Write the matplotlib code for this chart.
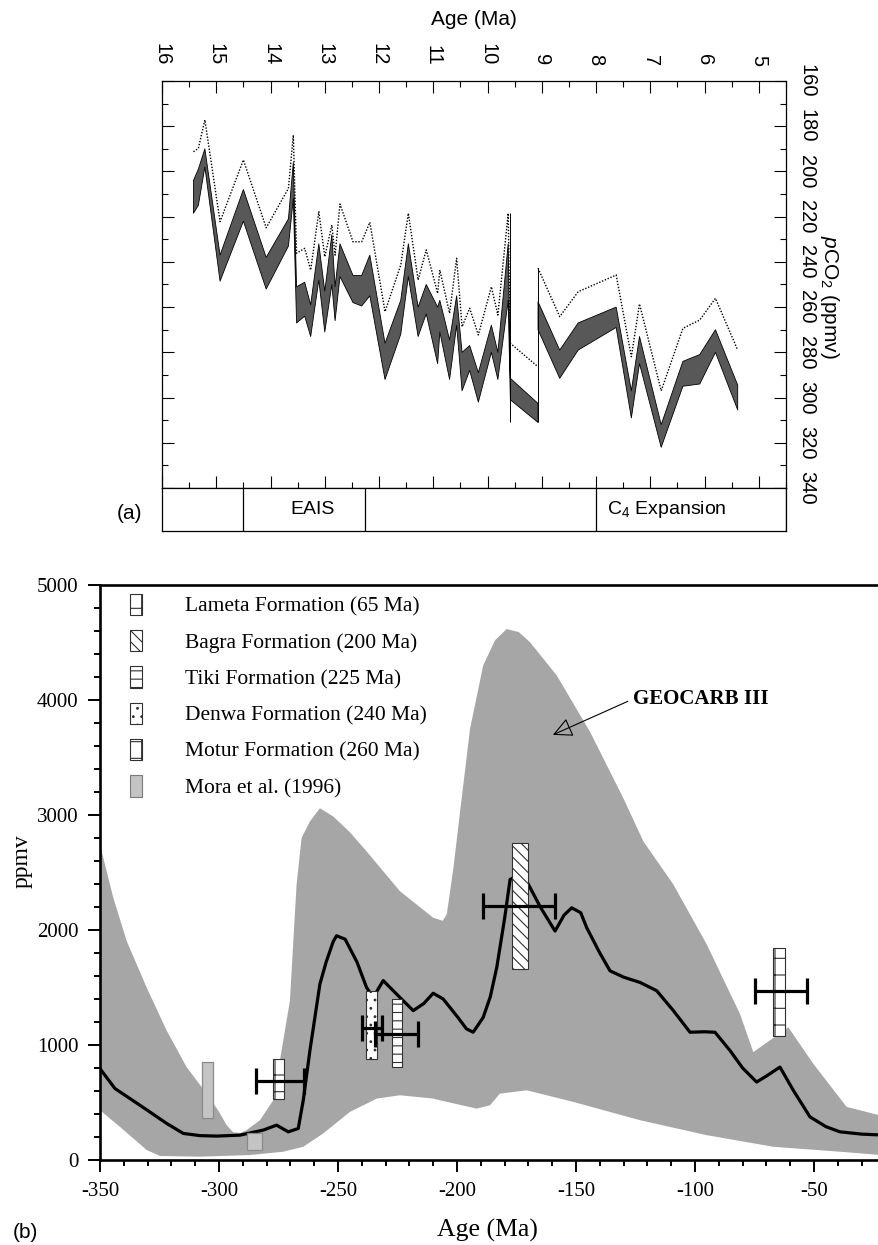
import numpy as np
import matplotlib
matplotlib.use("Agg")
import matplotlib.pyplot as plt
from matplotlib.patches import Patch

plt.rcParams["font.family"] = "Liberation Serif"
plt.rcParams["axes.unicode_minus"] = False
plt.rcParams["mathtext.fontset"] = "custom"
plt.rcParams["mathtext.rm"] = "Liberation Sans"
plt.rcParams["mathtext.it"] = "Liberation Sans:italic"
plt.rcParams["hatch.linewidth"] = 0.8

SANS = "Liberation Sans"
NAN = np.nan

# ---- (a) Miocene pCO2: band and dotted upper estimate (Ma, ppmv) ----
age_a = [15.42, 15.33, 15.21, 14.93, 14.50, 14.08, 13.67, 13.58, 13.52, 13.37,
         13.26, 13.11, 13.00, 12.87, 12.81, 12.72, 12.48, 12.32, 12.17, 11.89,
         11.60, 11.46, 11.28, 11.13, 10.92, 10.88, 10.70, 10.57, 10.47, 10.33,
         10.17, 9.93, 9.81, 9.62, 9.58, 9.07, 9.07, 9.07, 8.67, 8.33,
         7.63, 7.35, 7.20, 6.80, 6.40, 6.09, 5.80, 5.39]
dotted_a = [191.3, 189.8, 177.2, 222.2, 194.9, 224.9, 207.5, 183.9, 236.2, 234.0,
            243.6, 217.8, 237.7, 223.7, 237.0, 214.4, 231.1, 231.1, 222.5, 262.0,
            241.4, 218.5, 248.0, 234.7, 253.9, 243.6, 262.7, 238.4, 268.7, 260.5,
            272.3, 251.0, 263.5, 218.5, 276.0, 286.4, NAN, 242.8, 264.2, 253.2,
            245.8, 281.9, 258.6, 297.0, 269.4, 265.7, 256.1, 279.0]
band_top = [204, 199, 190, 237, 208, 238, 221, 196, 251, 249,
            259, 232, 253, 228, 251, 232, 246, 246, 237, 276,
            257, 232, 260, 250, 260, 257, 274.5, 255, 280, 277,
            289, 268, 280, 232, 291.5, 302.6, NAN, 257.6, 279, 267,
            260, 297, 273, 312, 284, 281, 270, 294.5]
band_bot = [218.5, 215, 198, 248.5, 222, 252, 233, 212, 267, 264,
            273, 248, 271, 250, 266, 246.5, 258, 259.5, 255, 292,
            272, 246.5, 273, 263, 285, 271, 292, 268, 297, 288,
            302, 280, 292, 257, 301, 311, NAN, 270, 291.5, 279,
            269, 309, 285, 322, 295, 294, 280, 305.5]
# thin vertical connectors at the 9.6 and 9.1 Ma steps
step_age = [9.58, 9.07]
step_top = [218.5, 242.8]
step_bot = [311, 311]

# event bar: (start, end, label)
event_start = [16.0, 14.5, 12.25, 8.0]
event_end = [14.5, 12.25, 8.0, 4.5]
event_label = ["", "EAIS", "", r"C$_4$ Expansion"]

# ---- (b) GEOCARB III envelope and mean (Ma, ppmv) ----
geo_up_age = [-350, -344.4, -338.8, -330.4, -322, -313.6, -305.2, -300, -296.8, -294,
              -291, -288.4, -282.8, -277.2, -274.4, -270.2, -267.4, -265.3, -261.8,
              -257.6, -252, -245, -238, -224, -210, -206, -204.3, -201.5, -198.7,
              -194.5, -189, -184, -179.1, -174, -169.3, -158.1, -144.1, -130.1, -121.7,
              -109.1, -95.1, -81.1, -75.5, -60.8, -50.3, -36.3, -22.7, -20]
geo_up_val = [2742, 2280, 1905, 1500, 1126, 808, 577, 420, 303, 240,
              235, 260, 346, 519, 866, 1385, 2396, 2800, 2944,
              3059, 2987, 2850, 2684, 2338, 2107, 2080, 2136, 2540, 3030,
              3752, 4300, 4520, 4617, 4590, 4502, 4214, 3723, 3146, 2771,
              2396, 1876, 1270, 938, 1154, 837, 462, 390, 385]
geo_lo_age = [-350, -341.6, -330.4, -324.8, -308, -287, -273, -264.6, -256.2,
              -245, -233.7, -224, -210, -207.1, -191.8, -186.1, -182, -170.7,
              -151.1, -123.1, -95.1, -67.1, -39.1, -20]
geo_lo_val = [433, 288, 87, 35, 29, 43, 72, 115, 231,
              418, 534, 563, 534, 519, 447, 476, 577, 606,
              505, 346, 216, 115, 72, 40]
mean_age = [-350, -343.7, -333.2, -322, -315, -308, -301, -291.2, -281.4, -275.8,
            -270.9, -266.7, -264.6, -261.8, -257.6, -255, -252, -250.6, -247, -242,
            -238, -235.2, -231, -224, -218.4, -214, -210, -205.8, -200, -196, -193.2,
            -189, -186, -183.3, -180, -177.7, -174, -170.7, -165, -158.8, -155,
            -151.8, -148, -145.5, -140, -135.7, -130, -123.1, -116.1, -109.1,
            -102.1, -96, -91.6, -85.3, -80, -74.1, -70, -64.3, -58.7, -51.7,
            -45, -39.1, -30, -20]
mean_val = [794, 621, 476, 318, 231, 212, 208, 216, 260, 303,
            245, 274, 519, 952, 1530, 1720, 1900, 1950, 1920, 1720,
            1500, 1414, 1560, 1414, 1299, 1360, 1450, 1400, 1250, 1140, 1111,
            1240, 1420, 1674, 2100, 2439, 2480, 2424, 2200, 1991, 2130,
            2193, 2150, 2020, 1800, 1645, 1590, 1544, 1472, 1299,
            1111, 1115, 1111, 952, 800, 678, 730, 808, 606, 375,
            290, 245, 225, 216]

# paleosol estimates: box ranges and age error bars
fm_names = ["Lameta Formation (65 Ma)", "Bagra Formation (200 Ma)",
            "Tiki Formation (225 Ma)", "Denwa Formation (240 Ma)",
            "Motur Formation (260 Ma)", "Mora et al. (1996)"]
fm_hatch = ["-|", "\\\\\\", "--", "..", "+", None]
fm_face = ["white", "white", "white", "white", "white", "#c4c4c4"]
box_x0 = [-67.1, -177.0, -227.5, -238.4, -277.3]
box_x1 = [-62.2, -170.0, -223.3, -233.8, -272.7]
box_lo = [1082, 1660, 808, 880, 534]
box_hi = [1847, 2756, 1400, 1472, 881]
mora_x0 = [-307.3, -288.1]
mora_x1 = [-302.4, -281.8]
mora_lo = [361, 87]
mora_hi = [851, 231]
eb_age = [-64.0, -173.9, -225.4, -235.9, -274.25]
eb_dage = [10.9, 15.1, 9.1, 4.2, 10.0]
eb_val = [1470, 2210, 1100, 1150, 690]

W, H = 879, 1245
fig = plt.figure(figsize=(W / 100, H / 100), dpi=100)


def px_axes(left, top, right, bottom):
    return fig.add_axes([left / W, 1 - bottom / H, (right - left) / W, (bottom - top) / H])


# ================= panel (a) =================
ax = px_axes(162, 81, 786, 488)
ax.fill_between(age_a, band_top, band_bot, facecolor="#585858",
                edgecolor="black", linewidth=0.6, zorder=2)
ax.plot(age_a, dotted_a, color="black", ls=(0, (1, 1.2)), lw=1.0, zorder=3)
ax.vlines(step_age, step_top, step_bot, color="black", lw=0.7, zorder=3)
ax.set_xlim(16, 4.5)
ax.set_ylim(340, 160)
ax.set_xticks(np.arange(5, 17, 1))
ax.set_xticks(np.arange(4.5, 16.5, 0.5), minor=True)
ax.set_yticks(np.arange(160, 341, 20))
ax.set_yticks(np.arange(160, 341, 10), minor=True)
ax.xaxis.tick_top()
ax.tick_params(axis="both", which="both", direction="in", width=0.8,
               labelfontfamily=SANS, labelsize=14.5)
ax.tick_params(which="major", length=8.6)
ax.tick_params(which="minor", length=4.4)
ax.tick_params(axis="x", which="both", top=True, bottom=True,
               labeltop=True, labelbottom=False, labelrotation=-90, pad=11)
ax.tick_params(axis="y", which="both", left=True, right=True,
               labelleft=False, labelright=True, labelrotation=-90, pad=8)
for lab in ax.get_yticklabels():
    lab.set_va("center")
for sp in ax.spines.values():
    sp.set_linewidth(0.9)
ax.set_xlabel("Age (Ma)", family=SANS, fontsize=15)
ax.xaxis.set_label_position("top")
ax.xaxis.set_label_coords(0.5, 1.15)
ax.xaxis.label.set_va("center")
ax.set_ylabel(r"$p$CO$_2$ (ppmv)", family=SANS, fontsize=15)
ax.yaxis.set_label_position("right")
ax.yaxis.set_label_coords(1.0705, 0.47)
ax.yaxis.label.set(rotation=-90, va="center", ha="center")

ev = px_axes(162, 488, 786, 531)
ev.set_xlim(16, 4.5)
ev.set_ylim(0, 1)
ev.set_xticks([])
ev.set_yticks([])
for sp in ev.spines.values():
    sp.set_linewidth(0.9)
for x0, x1, lab in zip(event_start, event_end, event_label):
    ev.axvline(x1, color="black", lw=0.9)
    if lab.startswith("C"):
        ev.text(x0 - 0.2, 0.5, lab, ha="left", va="center", family=SANS, fontsize=14)
    elif lab:
        ev.text((x0 + x1) / 2 - 0.15, 0.5, lab, ha="center", va="center",
                family=SANS, fontsize=14)
fig.text(130 / W, 1 - 513 / H, "(a)", ha="center", va="center", family=SANS, fontsize=15)

# ================= panel (b) =================
bx = px_axes(100, 585, 933, 1160)
bx.fill(np.r_[geo_up_age, geo_lo_age[::-1]], np.r_[geo_up_val, geo_lo_val[::-1]],
        color="#a6a6a6", lw=0, zorder=1)
bx.plot(mean_age, mean_val, color="black", lw=2.3, zorder=3,
        solid_joinstyle="round", solid_capstyle="round")

for x0, x1, lo, hi, hatch in zip(box_x0, box_x1, box_lo, box_hi, fm_hatch[:5]):
    bx.bar((x0 + x1) / 2, hi - lo, bottom=lo, width=x1 - x0, facecolor="white",
           edgecolor="#303030", hatch=hatch, lw=0.8, zorder=4)
for x0, x1, lo, hi in zip(mora_x0, mora_x1, mora_lo, mora_hi):
    bx.bar((x0 + x1) / 2, hi - lo, bottom=lo, width=x1 - x0, facecolor="#c4c4c4",
           edgecolor="#8a8a8a", lw=0.9, zorder=4)
bx.errorbar(eb_age, eb_val, xerr=eb_dage, fmt="none", ecolor="black",
            elinewidth=2.3, capsize=9.5, capthick=2.3, zorder=5)

bx.set_xlim(-350, 0)
bx.set_ylim(0, 5000)
bx.set_xticks(np.arange(-350, -49, 50))
bx.set_xticks(np.arange(-350, 1, 10), minor=True)
bx.set_yticks(np.arange(0, 5001, 1000))
bx.set_yticks(np.arange(0, 5001, 200), minor=True)
bx.tick_params(which="both", direction="out", width=1.4, labelsize=15, pad=7)
bx.tick_params(which="major", length=8.6)
bx.tick_params(which="minor", length=4.4)
bx.spines["right"].set_visible(False)
for side in ("left", "bottom", "top"):
    bx.spines[side].set_linewidth(1.9)
bx.set_xlabel("Age (Ma)", fontsize=18.5)
bx.xaxis.set_label_coords(0.465, -0.122)
bx.xaxis.label.set_va("center")
bx.set_ylabel("ppmv", fontsize=17)
bx.yaxis.set_label_coords(-0.094, 0.52)
bx.yaxis.label.set_va("center")

handles = [Patch(facecolor=f, edgecolor="#303030" if h else "#7a7a7a", hatch=h, lw=0.8)
           for f, h in zip(fm_face, fm_hatch)]
bx.legend(handles, fm_names, loc="upper left", bbox_to_anchor=(0.036, 0.985),
          frameon=False, fontsize=15.5, handlelength=0.56, handleheight=1.15,
          handletextpad=2.0, labelspacing=0.62, borderaxespad=0, borderpad=0)

bx.annotate("GEOCARB III", xy=(-159.7, 3697), xytext=(-126, 4009),
            fontsize=15, fontweight="bold", va="center", ha="left",
            arrowprops=dict(arrowstyle="-|>,head_length=0.8,head_width=0.4",
                            fc="none", ec="black", lw=0.8, shrinkA=2, shrinkB=0,
                            relpos=(0, 0.5)))
fig.text(25 / W, 1 - 1233 / H, "(b)", ha="center", va="center", family=SANS, fontsize=15)

fig.savefig("out.png", dpi=100)
